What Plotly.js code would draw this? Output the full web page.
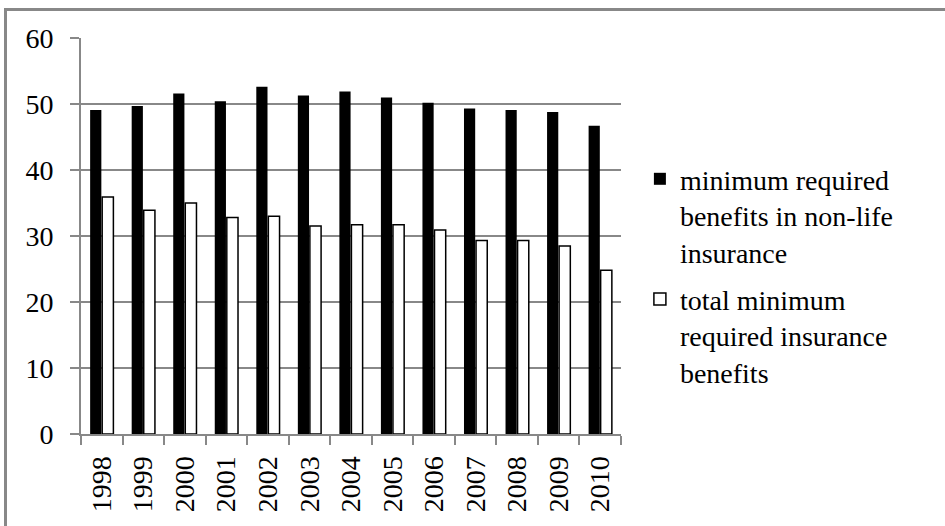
<!DOCTYPE html>
<html>
<head>
<meta charset="utf-8">
<script src="https://cdn.plot.ly/plotly-3.0.1.min.js"></script>
<style>
  html, body { margin: 0; padding: 0; background: #fff; }
  #wrap { position: relative; width: 945px; height: 526px; overflow: hidden; }
  #chart { position: absolute; left: 0; top: 0; width: 945px; height: 526px; }
  #frame { position: absolute; left: 4px; top: 8px; width: 960px; height: 540px;
           border-left: 3px solid #888; border-top: 3px solid #888; pointer-events: none; }
</style>
</head>
<body>
<div id="wrap">
  <div id="chart"></div>
  <div id="frame"></div>
</div>
<script>
const years = ['1998','1999','2000','2001','2002','2003','2004','2005','2006','2007','2008','2009','2010'];
const nonLife = [49.1, 49.7, 51.6, 50.4, 52.6, 51.3, 51.9, 51.0, 50.2, 49.3, 49.1, 48.8, 46.7];
const totalMin = [35.9, 33.9, 35.0, 32.8, 33.0, 31.5, 31.7, 31.7, 30.9, 29.3, 29.3, 28.5, 24.8];
const seriesNames = ['minimum required<br>benefits in non-life<br>insurance',
                     'total minimum<br>required insurance<br>benefits'];

const fam = 'Liberation Serif, Times New Roman, serif';

const traces = [
  { type: 'bar', x: years, y: nonLife, name: seriesNames[0], legendgroup: 'a',
    marker: { color: '#000', line: { color: '#000', width: 0 } } },
  { type: 'bar', x: years, y: totalMin, name: seriesNames[1], legendgroup: 'b',
    marker: { color: '#fff', line: { color: '#000', width: 1.5 } } }
];

const layout = {
  width: 945, height: 526,
  margin: { l: 81, r: 324, t: 38, b: 92 },
  paper_bgcolor: '#fff', plot_bgcolor: '#fff',
  font: { family: fam, size: 28, color: '#000' },
  barmode: 'group', bargap: 0.42, bargroupgap: 0.07,
  showlegend: true,
  legend: {
    x: 1.035, xanchor: 'left', y: 0.40, yanchor: 'middle',
    font: { family: fam, size: 28, color: '#000' },
    traceorder: 'grouped', tracegroupgap: 8, itemwidth: 30, valign: 'top'
  },
  xaxis: {
    type: 'category', tickson: 'boundaries',
    tickangle: -90, ticks: 'outside', ticklen: 9, tickwidth: 2, tickcolor: '#888',
    showline: true, linecolor: '#888', linewidth: 2, ticklabelstandoff: 9,
    showgrid: false, tickfont: { family: fam, size: 28, color: '#000' }
  },
  yaxis: {
    range: [0, 60], tick0: 0, dtick: 10,
    ticks: 'outside', ticklen: 9, tickwidth: 2, tickcolor: '#888',
    showline: true, linecolor: '#888', linewidth: 2,
    showgrid: true, gridcolor: '#888', gridwidth: 2,
    zeroline: false, ticklabelstandoff: 11,
    tickfont: { family: fam, size: 28, color: '#000' }
  }
};

Plotly.newPlot('chart', traces, layout, { displayModeBar: false, staticPlot: true });
</script>
</body>
</html>
